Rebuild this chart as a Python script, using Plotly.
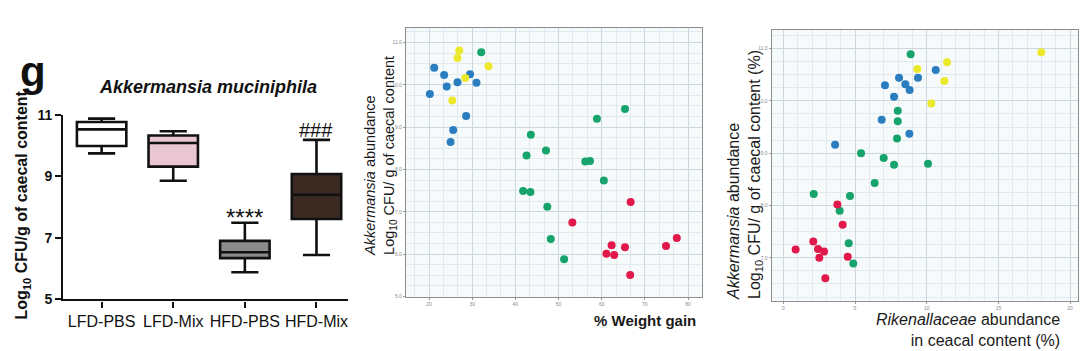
import plotly.graph_objects as go

W, H = 1080, 351

# ---------------- data ----------------
groups = ["LFD-PBS", "LFD-Mix", "HFD-PBS", "HFD-Mix"]
box_low = [9.74, 8.85, 5.88, 6.44]
box_q1 = [9.98, 9.31, 6.34, 7.61]
box_med = [10.52, 10.08, 6.53, 8.40]
box_q3 = [10.76, 10.32, 6.90, 9.07]
box_high = [10.87, 10.46, 7.49, 10.18]
box_colors = ["#ffffff", "#e9c6d1", "#8b8b8b", "#3b2a21"]
sig_labels = ["", "", "****", "###"]

# weight gain panel
wg_blue_x = [20.2, 21.2, 23.5, 24.1, 26.6, 29.5, 31.0, 28.6, 25.6, 25.0]
wg_blue_y = [9.78, 10.40, 10.23, 9.96, 10.06, 10.25, 10.05, 9.26, 8.93, 8.65]
wg_yellow_x = [27.0, 26.6, 33.8, 28.4, 25.4]
wg_yellow_y = [10.81, 10.63, 10.44, 10.16, 9.63]
wg_green_x = [32.1, 65.4, 58.9, 43.6, 47.1, 42.6, 56.2, 57.3, 60.5, 41.8, 43.5, 47.4, 48.2, 51.3]
wg_green_y = [10.77, 9.43, 9.20, 8.82, 8.45, 8.33, 8.19, 8.20, 7.74, 7.49, 7.47, 7.12, 6.36, 5.88]
wg_red_x = [66.7, 53.2, 77.4, 74.9, 62.3, 65.4, 61.1, 62.9, 66.6]
wg_red_y = [7.23, 6.75, 6.38, 6.19, 6.21, 6.16, 6.01, 5.98, 5.51]

# Rikenellaceae panel
rk_yellow_x = [17.99, 11.42, 9.34, 11.23, 10.32]
rk_yellow_y = [10.93, 10.74, 10.61, 10.38, 9.95]
rk_blue_x = [10.63, 9.39, 8.07, 8.51, 8.81, 7.09, 7.72, 6.86, 8.79, 3.61]
rk_blue_y = [10.59, 10.44, 10.44, 10.32, 10.21, 10.30, 10.08, 9.64, 9.37, 9.16]
rk_green_x = [8.88, 7.98, 7.98, 7.93, 5.42, 7.00, 7.72, 10.09, 6.37, 2.12, 4.65, 3.93, 4.56, 4.88]
rk_green_y = [10.89, 9.81, 9.61, 9.28, 9.00, 8.91, 8.78, 8.80, 8.43, 8.22, 8.18, 7.90, 7.28, 6.89]
rk_red_x = [3.77, 4.14, 2.09, 0.86, 2.42, 2.84, 2.51, 4.49, 2.93]
rk_red_y = [8.02, 7.63, 7.31, 7.16, 7.17, 7.12, 7.00, 7.02, 6.61]

BLUE, YELLOW, GREEN, RED = "#2a7dbf", "#ece82c", "#17a46c", "#e0194a"

FONT = "Liberation Sans, Arial, sans-serif"


def px(x):
    return x / W


def py(y):
    return (H - y) / H


fig = go.Figure()

# ---- box plot ----
for i, g in enumerate(groups):
    fig.add_trace(go.Box(
        x=[i], q1=[box_q1[i]], median=[box_med[i]], q3=[box_q3[i]],
        lowerfence=[box_low[i]], upperfence=[box_high[i]],
        width=0.69, whiskerwidth=0.55, fillcolor=box_colors[i],
        line=dict(color="#111111", width=2.6), boxpoints=False,
        xaxis="x", yaxis="y", showlegend=False, hoverinfo="skip"))


def sc(x, y, c, ax, ay):
    fig.add_trace(go.Scatter(x=x, y=y, mode="markers", xaxis=ax, yaxis=ay,
                             marker=dict(size=8, color=c, line=dict(width=0)),
                             showlegend=False, hoverinfo="skip"))


sc(wg_blue_x, wg_blue_y, BLUE, "x2", "y2")
sc(wg_yellow_x, wg_yellow_y, YELLOW, "x2", "y2")
sc(wg_green_x, wg_green_y, GREEN, "x2", "y2")
sc(wg_red_x, wg_red_y, RED, "x2", "y2")

sc(rk_blue_x, rk_blue_y, BLUE, "x3", "y3")
sc(rk_yellow_x, rk_yellow_y, YELLOW, "x3", "y3")
sc(rk_green_x, rk_green_y, GREEN, "x3", "y3")
sc(rk_red_x, rk_red_y, RED, "x3", "y3")

MAJ = "#cbd8e0"
MIN = "#e2eaef"
BG = "#f7fafb"
small_tick = dict(size=5, color="#8a8a8a", family=FONT)

scatter_ax = dict(showline=True, mirror=True, linecolor="#8d8d8d", linewidth=1.2,
                  ticks="outside", ticklen=2, tickcolor="#9a9a9a", tickfont=small_tick,
                  showgrid=True, gridcolor=MAJ, gridwidth=1, zeroline=False)

fig.update_layout(
    width=W, height=H, margin=dict(l=0, r=0, t=0, b=0),
    paper_bgcolor="white", plot_bgcolor="rgba(0,0,0,0)",
    boxmode="overlay", font=dict(family=FONT, color="#111"),
    xaxis=dict(domain=[px(63.3), px(348)], range=[-0.535, 3.44],
               tickvals=[0, 1, 2, 3], ticktext=groups,
               showline=True, linecolor="#111", linewidth=2.4,
               ticks="outside", ticklen=6, tickwidth=2.2, tickcolor="#111",
               tickfont=dict(size=16, color="#111", family=FONT),
               showgrid=False, zeroline=False, anchor="y"),
    yaxis=dict(domain=[py(305.3), py(111.7)], range=[5, 11],
               tickvals=[5, 7, 9, 11],
               showline=True, linecolor="#111", linewidth=2.4,
               ticks="outside", ticklen=6, tickwidth=2.2, tickcolor="#111",
               tickfont=dict(size=14, color="#111", family=FONT, weight="bold"),
               showgrid=False, zeroline=False, anchor="x"),
    xaxis2=dict(domain=[px(406), px(701.7)], range=[14.67, 83.17],
                tick0=20, dtick=10, tickformat="d",
                minor=dict(dtick=10 / 3, showgrid=True, gridcolor=MIN, ticks=""),
                anchor="y2", **scatter_ax),
    yaxis2=dict(domain=[py(302.7), py(21)], range=[4.99, 11.34],
                tick0=6, dtick=1, tickformat=".1f",
                minor=dict(dtick=0.25, showgrid=True, gridcolor=MIN, ticks=""),
                anchor="x2", **scatter_ax),
    xaxis3=dict(domain=[px(771.7), px(1078)], range=[-0.81, 20.55],
                tick0=0, dtick=5, tickformat="d",
                minor=dict(dtick=1, showgrid=True, gridcolor=MIN, ticks=""),
                anchor="y3", **scatter_ax),
    yaxis3=dict(domain=[py(306.7), py(23.3)], range=[6.18, 11.35],
                tick0=7, dtick=1, tickformat=".1f",
                minor=dict(dtick=0.25, showgrid=True, gridcolor=MIN, ticks=""),
                anchor="x3", **scatter_ax),
    shapes=[
        dict(type="rect", xref="x2 domain", yref="y2 domain", x0=0, x1=1, y0=0, y1=1,
             fillcolor=BG, line=dict(width=0), layer="below"),
        dict(type="rect", xref="x3 domain", yref="y3 domain", x0=0, x1=1, y0=0, y1=1,
             fillcolor=BG, line=dict(width=0), layer="below"),
    ],
)

P = dict(xref="paper", yref="paper", showarrow=False)
ann = []
# panel letter
ann.append(dict(x=px(33), y=py(67), text="<b>g</b>",
                font=dict(size=42, color="#111", family=FONT), xanchor="center", yanchor="middle", **P))
# title
ann.append(dict(x=px(208), y=py(83), text="<b><i>Akkermansia muciniphila</i></b>",
                font=dict(size=18, color="#111", family=FONT), xanchor="center", yanchor="middle", **P))
# left y title
ann.append(dict(x=px(23), y=py(207), text="<b>Log<sub>10</sub> CFU/g of caecal content</b>",
                textangle=-90,
                font=dict(size=16, color="#111", family=FONT), xanchor="center", yanchor="middle", **P))
# significance labels
sig_y = [0, 0, 219, 128]
sig_size = [0, 0, 24, 20]
for i, s in enumerate(sig_labels):
    if s:
        ann.append(dict(x=i, y=py(sig_y[i]), xref="x", yref="paper", text=s, showarrow=False,
                        font=dict(size=sig_size[i], color="#111", family=FONT),
                        xanchor="center", yanchor="middle"))

# middle panel titles
ann.append(dict(x=px(381), y=py(155),
                text="<i>Akkermansia</i> abundance<br>Log<sub>10</sub> CFU/ g of caecal content",
                textangle=-90, align="left",
                font=dict(size=14.5, color="#1a1a1a", family=FONT), xanchor="center", yanchor="middle", **P))
ann.append(dict(x=px(698), y=py(327), text="<b>% Weight gain</b>",
                font=dict(size=15, color="#1a1a1a", family=FONT), xanchor="right", yanchor="middle", **P))

# right panel titles
ann.append(dict(x=px(745), y=py(175),
                text="<i>Akkermansia</i> abundance<br>Log<sub>10</sub> CFU/ g of caecal content (%)",
                textangle=-90, align="left",
                font=dict(size=16, color="#1a1a1a", family=FONT), xanchor="center", yanchor="middle", **P))
ann.append(dict(x=px(1062), y=py(337),
                text="<i>Rikenallaceae</i> abundance<br>in ceacal content (%)",
                align="right",
                font=dict(size=16, color="#1a1a1a", family=FONT), xanchor="right", yanchor="middle", **P))

fig.update_layout(annotations=ann)

fig.write_html("out.html")
